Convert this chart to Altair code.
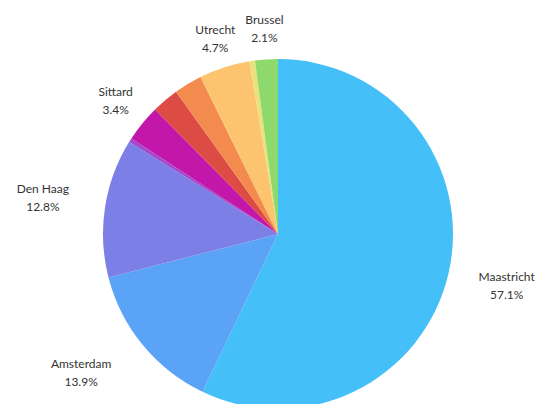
import altair as alt
import pandas as pd

# Slices in clockwise order starting at 12 o'clock
cities = ["Maastricht", "Amsterdam", "Den Haag", "Overig 1", "Sittard",
          "Overig 2", "Overig 3", "Utrecht", "Overig 4", "Brussel"]
shares = [57.1, 13.9, 12.8, 0.4, 3.4, 2.5, 2.6, 4.7, 0.5, 2.1]
show_label = [True, True, True, False, True, False, False, True, False, True]
colors = ["#44BFF8", "#5BA3F7", "#7B7FE6", "#A24BD0", "#C217A8",
          "#DD4C44", "#F38B4E", "#FDC46F", "#E9E17B", "#8ED96B"]

df = pd.DataFrame({
    "idx": list(range(len(cities))),
    "city": cities,
    "share": shares,
    "show": show_label,
})
df["label"] = [f"{c}\n{s:.1f}%" for c, s in zip(cities, shares)]

base = alt.Chart(df)

pie = base.mark_arc(outerRadius=175).encode(
    theta=alt.Theta("share:Q", stack=True),
    color=alt.Color("city:N", scale=alt.Scale(domain=cities, range=colors), legend=None),
    order=alt.Order("idx:Q"),
)

labels = base.transform_window(
    cum="sum(share)", sort=[alt.SortField("idx")], frame=[None, 0]
).transform_calculate(
    mid="(datum.cum - datum.share / 2) / 100 * 2 * PI"
).transform_calculate(
    r0="205 + 36 * pow(sin(datum.mid), 8)"
).transform_calculate(
    lr="(datum.mid > PI && datum.mid < 1.5 * PI) ? 241 : datum.r0"
).transform_calculate(
    lt="(-datum.lr * cos(datum.mid) > 139) ? (datum.mid < PI ? PI - acos(139 / datum.lr) : PI + acos(139 / datum.lr)) : datum.mid"
).transform_filter(
    "datum.show"
).mark_text(
    lineBreak="\n", lineHeight=18, font="Lato", fontSize=12, color="#333333",
    align="center", baseline="middle", dy=-9,
).encode(
    theta=alt.Theta("lt:Q", scale=None, stack=None),
    radius=alt.Radius("lr:Q", scale=None),
    text="label:N",
)

chart = alt.layer(pie, labels).resolve_scale(
    theta="independent"
).properties(
    width=400, height=320,
    autosize=alt.AutoSizeParams(type="none"),
    padding={"left": 70, "top": 66, "right": 58, "bottom": 10},
).configure_view(stroke=None)

chart.save("out.html", embed_options={"renderer": "svg", "actions": False})
